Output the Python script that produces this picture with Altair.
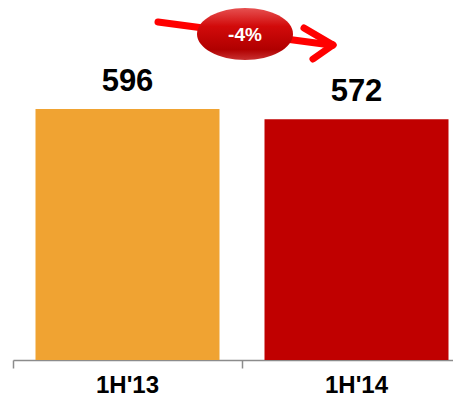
import altair as alt
import pandas as pd

periods = ["1H'13", "1H'14"]
values = [596, 572]
colors = ["#F0A332", "#C00000"]
change_label = "-4%"

df = pd.DataFrame({"period": periods, "value": values, "color": colors})

x_enc = alt.X(
    "period:N",
    sort=periods,
    scale=alt.Scale(paddingInner=0, paddingOuter=0, range=[0, 458]),
    axis=alt.Axis(
        title=None,
        bandPosition=0,
        domainColor="#8c8c8c",
        domainWidth=1.5,
        tickColor="#8c8c8c",
        tickWidth=1.5,
        tickSize=8,
        labelFont="Liberation Sans",
        labelFontWeight="bold",
        labelFontSize=24,
        labelColor="#000000",
        labelPadding=5,
        labelAngle=0,
    ),
)
y_enc = alt.Y("value:Q", scale=alt.Scale(domain=[0, 836]), axis=None)

base = alt.Chart(df)

bars = base.mark_bar(width=alt.RelativeBandSize(0.8035)).encode(
    x=x_enc,
    y=y_enc,
    color=alt.Color("color:N", scale=None),
)

labels = base.mark_text(
    font="Liberation Sans",
    fontWeight="bold",
    fontSize=31,
    baseline="alphabetic",
    dy=-18,
    color="#000000",
).encode(x=x_enc, y=y_enc, text=alt.Text("value:Q"))

one = alt.Data(values=[{"k": 1}])

arrow_style = dict(color="#FF0000", strokeWidth=7, strokeCap="round")
shaft = alt.Chart(one).mark_rule(**arrow_style).encode(
    x=alt.value(145), y=alt.value(14), x2=alt.value(318), y2=alt.value(37)
)
head_up = alt.Chart(one).mark_rule(**arrow_style).encode(
    x=alt.value(291), y=alt.value(20), x2=alt.value(320), y2=alt.value(37)
)
head_down = alt.Chart(one).mark_rule(**arrow_style).encode(
    x=alt.value(320), y=alt.value(37), x2=alt.value(300), y2=alt.value(51)
)

ry = 0.54
k = 0.5523
ellipse_path = (
    f"M-1,0 C-1,{-k*ry:.4f} {-k:.4f},{-ry} 0,{-ry} "
    f"C{k:.4f},{-ry} 1,{-k*ry:.4f} 1,0 "
    f"C1,{k*ry:.4f} {k:.4f},{ry} 0,{ry} "
    f"C{-k:.4f},{ry} -1,{k*ry:.4f} -1,0 Z"
)
ellipse = alt.Chart(one).mark_point(
    shape=ellipse_path,
    filled=True,
    opacity=1,
    size=9216,
    strokeWidth=0,
    fill=alt.Gradient(
        gradient="linear",
        x1=0, y1=0, x2=0, y2=1,
        stops=[
            alt.GradientStop(offset=0, color="#E65050"),
            alt.GradientStop(offset=0.35, color="#D20A0A"),
            alt.GradientStop(offset=0.8, color="#B00000"),
            alt.GradientStop(offset=1, color="#C83030"),
        ],
    ),
).encode(x=alt.value(232), y=alt.value(26))

ellipse_text = alt.Chart(one).mark_text(
    text=change_label,
    font="Liberation Sans",
    fontWeight="bold",
    fontSize=19,
    color="#FFFFFF",
    baseline="middle",
    align="center",
).encode(x=alt.value(232), y=alt.value(27))

chart = alt.layer(bars, labels, shaft, head_up, head_down, ellipse, ellipse_text).properties(
    width=440,
    height=352,
    autosize=alt.AutoSizeParams(type="none"),
    padding={"left": 5, "top": 0, "right": 0, "bottom": 38},
).configure_view(stroke=None)

chart.save("out.html", embed_options={"renderer": "svg", "actions": False})
